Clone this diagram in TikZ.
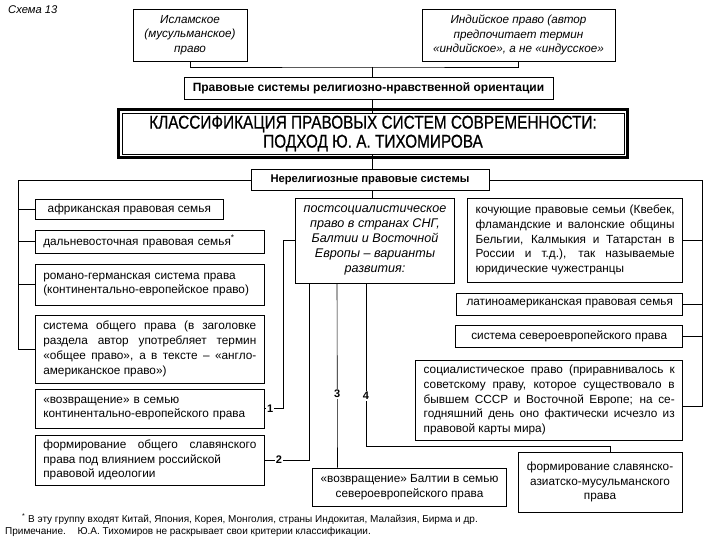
\documentclass[tikz,border=0pt]{standalone}
\usepackage{fontspec}
\setmainfont{Liberation Sans}
\newfontfamily\narrowfont[FakeStretch=0.83,FakeBold=0.6]{Liberation Sans}
\usetikzlibrary{positioning}

\begin{document}
\begin{tikzpicture}[x=1pt,y=-1pt,
  font=\fontsize{11.8}{14.8}\selectfont,
  box/.style={draw=black, line width=0.6pt, inner xsep=8pt, inner ysep=2pt},
  lbox/.style={box, anchor=west, minimum width=229pt},
  rbox/.style={box, anchor=east},
  ibox/.style={box, font=\fontsize{11.7}{14.5}\selectfont\itshape, align=center},
  head/.style={box, font=\fontsize{12}{14}\selectfont\bfseries},
  num/.style={fill=white, inner sep=1pt, font=\fontsize{11}{12}\selectfont\bfseries},
  link/.style={draw=black, line width=0.6pt},
  note/.style={anchor=west, inner sep=0pt, font=\fontsize{10}{11}\selectfont}
]
\useasboundingbox (0,0) rectangle (720,540);
\hyphenpenalty=10000 \exhyphenpenalty=10000

% religious systems
\node[anchor=west, inner sep=0pt, font=\fontsize{11.2}{12}\selectfont\itshape] (cap) at (8,10) {Схема 13};
\node[ibox, minimum width=114pt, minimum height=52pt] (isl) at (190,35)
  {Исламское\\(мусульманское)\\право};
\node[ibox, minimum width=193pt, minimum height=52pt] (ind) at (518.5,35)
  {Индийское право (автор\\предпочитает термин\\«индийское», а не «индусское»};
\node[head, minimum width=369pt, minimum height=22pt] (rel) at (368.5,88)
  {Правовые системы религиозно-нравственной ориентации};

% title
\node[box, minimum width=502pt, minimum height=41pt, align=center,
  font=\narrowfont\fontsize{18.5}{19}\selectfont] (main) at (373,133.5)
  {КЛАССИФИКАЦИЯ ПРАВОВЫХ СИСТЕМ СОВРЕМЕННОСТИ:\\ПОДХОД Ю. А. ТИХОМИРОВА};
\draw[line width=2.5pt] ([xshift=-3pt,yshift=3pt]main.north west) rectangle ([xshift=3pt,yshift=-3pt]main.south east);

\node[head, minimum width=238pt, minimum height=21pt, font=\fontsize{11.2}{13}\selectfont\bfseries] (nrel) at (370,180)
  {Нерелигиозные правовые системы};

% left column
\node[lbox, minimum width=188pt, minimum height=20pt] (afr) at (35,209.5) {африканская правовая семья};
\node[lbox, minimum height=23pt, text width=213pt, align=left] (far) at (35,241.5)
  {дальневосточная правовая семья\textsuperscript{*}};
\node[lbox, minimum height=41pt, text width=213pt, align=left] (rom) at (35,284.5)
  {романо-германская система права\\(континентально-европейское право)};
\node[lbox, minimum height=68pt, text width=213pt, align=justify] (common) at (35,349)
  {система общего права (в заголовке\linebreak раздела автор употребляет термин\linebreak «общее право», а в тексте -- «англо-\linebreak американское право»)};
\node[lbox, minimum height=39pt, text width=213pt, align=left] (ret1) at (35,408.5)
  {«возвращение» в семью\\континентально-европейского права};
\node[lbox, minimum height=50pt, text width=213pt, align=justify] (slav) at (35,460)
  {формирование общего славянского\linebreak права под влиянием российской\\правовой идеологии};

% right column
\node[rbox, minimum width=215pt, minimum height=84pt, text width=199pt, align=justify] (nomad) at (683,240)
  {кочующие правовые семьи (Квебек,\linebreak фламандские и валонские общины\linebreak Бельгии, Калмыкия и Татарстан в\linebreak России и т.д.), так называемые\linebreak юридические чужестранцы};
\node[rbox, minimum width=226pt, minimum height=22pt] (lat) at (683,304) {латиноамериканская правовая семья};
\node[rbox, minimum width=227pt, minimum height=22pt] (north) at (683,336) {система североевропейского права};
\node[rbox, minimum width=267pt, minimum height=80pt, text width=251pt, align=justify] (soc) at (683,400)
  {социалистическое право (приравнивалось к\linebreak советскому праву, которое существовало в\linebreak бывшем СССР и Восточной Европе; на се-\linebreak годняшний день оно фактически исчезло из\linebreak правовой карты мира)};

% post-socialist variants
\node[ibox, minimum width=156pt, minimum height=85pt, font=\fontsize{12.6}{14.8}\selectfont\itshape] (post) at (375,240.5)
  {постсоциалистическое\\право в странах СНГ,\\Балтии и Восточной\\Европы -- варианты\\развития:};
\node[box, minimum width=189pt, minimum height=38pt, align=center] (bal) at (409.5,487)
  {«возвращение» Балтии в семью\\североевропейского права};
\node[box, minimum width=164pt, minimum height=60pt, align=center] (sam) at (600,482)
  {формирование славянско-\\азиатско-мусульманского\\права};

% connectors
\coordinate (relj) at (372,67);
\draw[link] (isl.south) |- (relj) -| (ind.south);
\draw[link] (relj) -- (rel.north -| relj);
\draw[link] (rel.south -| relj) -- (main.north -| relj);
\draw[link] (main.south -| relj) -- (nrel.north -| relj);
\draw[link] (nrel.south -| relj) -- (post.north -| relj);
\draw[link] (nrel.west) -| ([xshift=-17pt]common.west) -- (common.west);
\foreach \n in {afr,far,rom}
  \draw[link] (\n.west) -- ++(-17,0);
\draw[link] (nrel.east) -| ([xshift=19pt,yshift=-6pt]soc.east) -- ([yshift=-6pt]soc.east);
\foreach \n in {nomad,lat,north}
  \draw[link] (\n.east) -- ++(19,0);

\draw[link] (post.west) -- ++(-12,0) |- node[num, pos=0.85] {1} (ret1.east);
\draw[link] ([xshift=-66pt]post.south) |- node[num, pos=0.84] {2} (slav.east);
\draw[link] ([xshift=-38pt]post.south) -- node[num, pos=0.6] {3} ([xshift=-72pt]bal.north);
\draw[link] ([xshift=-9pt]post.south) -- node[num, pos=0.69] {4} ++(0,163) -| ([xshift=10pt]sam.north);

% notes
\node[note] (fn) at (22,519) {\textsuperscript{*} В эту группу входят Китай, Япония, Корея, Монголия, страны Индокитая, Малайзия, Бирма и др.};
\node[note] (pr) at (5,532) {Примечание.\hspace{8pt} Ю.А. Тихомиров не раскрывает свои критерии классификации.};
\end{tikzpicture}
\end{document}
